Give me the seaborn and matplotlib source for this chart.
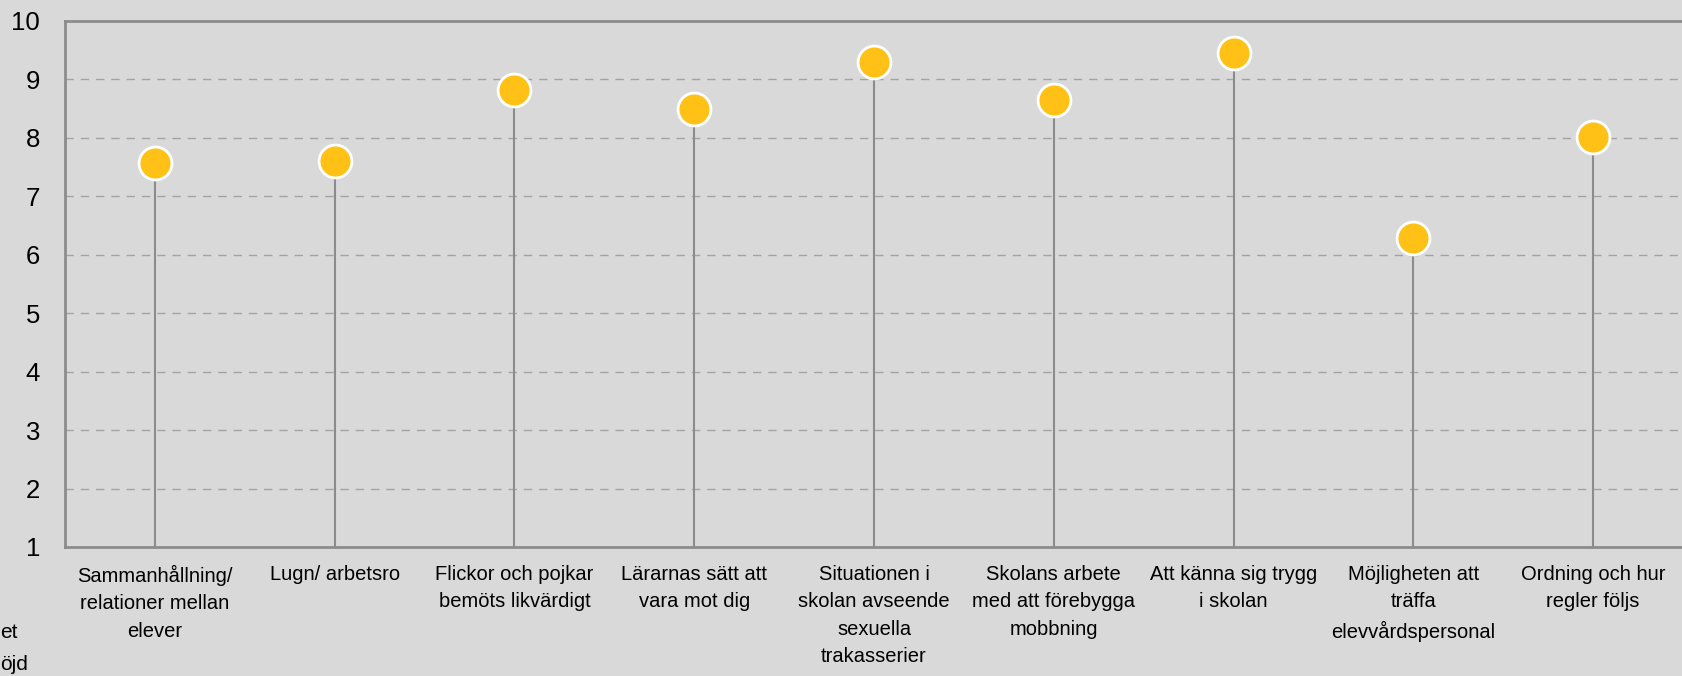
import numpy as np
import pandas as pd
import matplotlib.pyplot as plt
import seaborn as sns

# ================= DATA =================
categories = [
    "Sammanhållning/\nrelationer mellan\nelever",
    "Lugn/ arbetsro",
    "Flickor och pojkar\nbemöts likvärdigt",
    "Lärarnas sätt att\nvara mot dig",
    "Situationen i\nskolan avseende\nsexuella\ntrakasserier",
    "Skolans arbete\nmed att förebygga\nmobbning",
    "Att känna sig trygg\ni skolan",
    "Möjligheten att\nträffa\nelevvårdspersonal",
    "Ordning och hur\nregler följs",
]
scores = [7.57, 7.60, 8.82, 8.49, 9.30, 8.64, 9.45, 6.29, 8.01]
y_ticks = [1, 2, 3, 4, 5, 6, 7, 8, 9, 10]

BG = "#D9D9D9"
GRID = "#A3A3A3"
SPINE = "#8C8C8C"
DOT = "#FFC116"

# ================= STYLE =================
sns.set_style("white", {"axes.facecolor": BG, "figure.facecolor": BG,
                        "text.color": "black", "xtick.color": "black",
                        "ytick.color": "black"})
plt.rcParams["font.family"] = ["Liberation Sans", "DejaVu Sans"]

df = pd.DataFrame({"pos": np.arange(len(categories)), "score": scores})

fig = plt.figure(figsize=(16.82, 6.76), dpi=100)
ax = fig.add_axes([65 / 1682, 1 - 547 / 676, 1618 / 1682, 526 / 676])

# stems
ax.vlines(df["pos"], 1, df["score"], color=SPINE, linewidth=1.5, zorder=2)

# dots
sns.scatterplot(data=df, x="pos", y="score", ax=ax, s=560, color=DOT,
                edgecolor="white", linewidth=2, zorder=3, clip_on=False)

ax.set_xlim(-0.5, len(categories) - 0.5)
ax.set_ylim(1, 10)
ax.set_yticks(y_ticks)
ax.set_yticklabels([str(t) for t in y_ticks], fontsize=18.5, color="black")
ax.set_xticks(df["pos"])
ax.set_xticklabels(categories, fontsize=14.5, linespacing=1.55, va="top",
                   color="black")
ax.tick_params(axis="x", length=0, pad=13)
ax.tick_params(axis="y", length=0, pad=18)
ax.set_xlabel("")
ax.set_ylabel("")

for t in y_ticks[1:-1]:
    ax.axhline(t, color=GRID, linewidth=1, linestyle=(0, (6, 5)), zorder=1)

for side in ["left", "top", "bottom", "right"]:
    ax.spines[side].set_color(SPINE)
    ax.spines[side].set_linewidth(2)

# clipped legend fragments at the left edge
fig.text(0.0, 1 - 632 / 676, "et", fontsize=15, va="center", ha="left",
         color="black")
fig.text(0.0, 1 - 664 / 676, "öjd", fontsize=15, va="center", ha="left",
         color="black")

fig.savefig("out.png", dpi=100, facecolor=BG)
